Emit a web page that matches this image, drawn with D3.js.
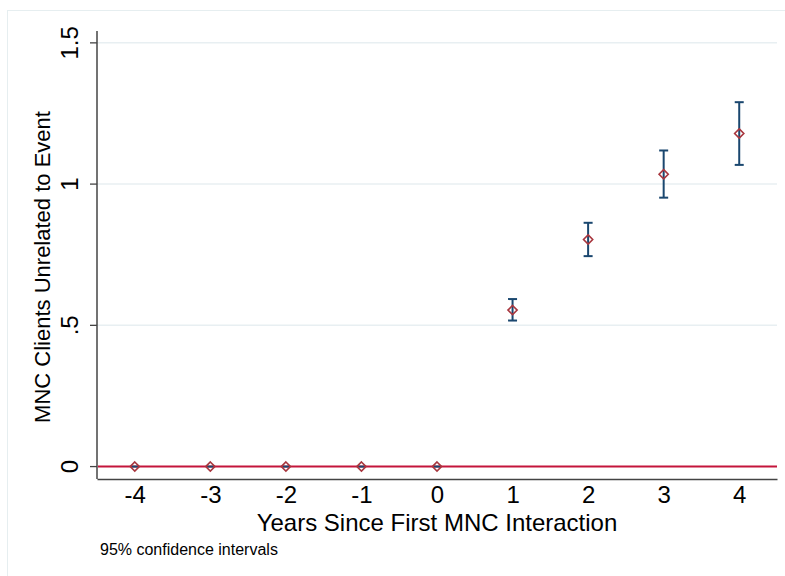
<!DOCTYPE html>
<html>
<head>
<meta charset="utf-8">
<script src="https://cdn.jsdelivr.net/npm/d3@7"></script>
<style>
  body { margin: 0; background: #fff; }
  text { font-family: "Liberation Sans", Arial, sans-serif; fill: #000; }
</style>
</head>
<body>
<div id="chart"></div>
<script>
// event-study coefficients
const years = [-4, -3, -2, -1, 0, 1, 2, 3, 4];
const coef  = [0, 0, 0, 0, 0, 0.554, 0.804, 1.035, 1.179];
const ciLow = [0, 0, 0, 0, 0, 0.517, 0.745, 0.952, 1.068];
const ciHigh = [0, 0, 0, 0, 0, 0.593, 0.863, 1.119, 1.290];
const yTicks = [0, 0.5, 1, 1.5];
const yTickLabels = ["0", ".5", "1", "1.5"];

const W = 785, H = 576;
const margin = {top: 31, right: 8, bottom: 97, left: 97};

var svg = d3.select("#chart")
  .append("svg")
  .attr("width", W)
  .attr("height", H);

// faint outer frame
svg.append("rect")
  .attr("x", 7.5).attr("y", 10.5)
  .attr("width", W + 20).attr("height", H + 20)
  .attr("fill", "none")
  .attr("stroke", "#e6eef0");

var x = d3.scaleLinear()
  .domain([-4.5, 4.5])
  .range([margin.left, W - margin.right]);

var y = d3.scaleLinear()
  .domain([-0.044, 1.542])
  .range([H - margin.bottom, margin.top]);

// gridlines
svg.append("g")
  .selectAll("line")
  .data(yTicks.filter(d => d > 0))
  .enter()
  .append("line")
  .attr("x1", margin.left).attr("x2", W - margin.right)
  .attr("y1", d => y(d)).attr("y2", d => y(d))
  .attr("stroke", "#e8eff2")
  .attr("stroke-width", 1.5);

// y axis
var yAxis = d3.axisLeft(y)
  .tickValues(yTicks)
  .tickFormat((d, i) => yTickLabels[i])
  .tickSize(7)
  .tickPadding(0);

var gy = svg.append("g")
  .attr("transform", "translate(" + margin.left + ",0)")
  .call(yAxis);
gy.select(".domain").attr("stroke", "#444").attr("stroke-width", 1.5)
  .attr("d", "M0," + margin.top + "V" + (H - margin.bottom));
gy.selectAll(".tick line").attr("stroke", "#444").attr("stroke-width", 1.3);
gy.selectAll(".tick text")
  .attr("font-size", 24)
  .attr("font-family", "Liberation Sans, Arial, sans-serif")
  .attr("text-anchor", "middle")
  .attr("transform", d => "translate(" + (-19) + "," + y(d) + ") rotate(-90)")
  .attr("x", 0).attr("y", 0).attr("dy", 0);
gy.selectAll(".tick").attr("transform", "translate(0,0)");
gy.selectAll(".tick line").attr("y1", d => y(d)).attr("y2", d => y(d));

// x axis
var xAxis = d3.axisBottom(x)
  .tickValues(years)
  .tickFormat(d3.format("d"))
  .tickSize(0)
  .tickPadding(7);

var gx = svg.append("g")
  .attr("transform", "translate(0," + (H - margin.bottom) + ")")
  .call(xAxis);
gx.select(".domain").attr("stroke", "#444").attr("stroke-width", 1.5);
gx.selectAll(".tick text")
  .attr("font-size", 24)
  .attr("font-family", "Liberation Sans, Arial, sans-serif")
  .attr("dy", "0.71em")
  .text(d => d < 0 ? "-" + Math.abs(d) : d);

// reference line at zero
svg.append("line")
  .attr("x1", margin.left + 1).attr("x2", W - margin.right)
  .attr("y1", y(0)).attr("y2", y(0))
  .attr("stroke", "#c4153b")
  .attr("stroke-width", 2);

// confidence intervals
var bars = svg.append("g");
years.forEach((yr, i) => {
  bars.append("line")
    .attr("x1", x(yr)).attr("x2", x(yr))
    .attr("y1", y(ciLow[i])).attr("y2", y(ciHigh[i]))
    .attr("stroke", "#1a476f").attr("stroke-width", 2);
  if (ciHigh[i] > ciLow[i]) {
    [ciLow[i], ciHigh[i]].forEach(v => {
      bars.append("line")
        .attr("x1", x(yr) - 4.5).attr("x2", x(yr) + 4.5)
        .attr("y1", y(v)).attr("y2", y(v))
        .attr("stroke", "#1a476f").attr("stroke-width", 2);
    });
  } else {
    bars.append("line")
      .attr("x1", x(yr) - 3).attr("x2", x(yr) + 3)
      .attr("y1", y(coef[i])).attr("y2", y(coef[i]))
      .attr("stroke", "#1a476f").attr("stroke-width", 2);
  }
});

// point estimates, hollow diamonds
svg.append("g")
  .selectAll("path")
  .data(years)
  .enter()
  .append("path")
  .attr("d", "M0,-4.6L4.6,0L0,4.6L-4.6,0Z")
  .attr("transform", (d, i) => "translate(" + x(d) + "," + y(coef[i]) + ")")
  .attr("fill", "none")
  .attr("stroke", "#a8363e")
  .attr("stroke-width", 1.6);

// axis titles
svg.append("text")
  .attr("transform", "translate(50,267) rotate(-90)")
  .attr("text-anchor", "middle")
  .attr("font-size", 22)
  .text("MNC Clients Unrelated to Event");

svg.append("text")
  .attr("x", (margin.left + W - margin.right) / 2)
  .attr("y", 531)
  .attr("text-anchor", "middle")
  .attr("font-size", 24)
  .text("Years Since First MNC Interaction");

svg.append("text")
  .attr("x", 100)
  .attr("y", 555)
  .attr("font-size", 16)
  .text("95% confidence intervals");
</script>
</body>
</html>
